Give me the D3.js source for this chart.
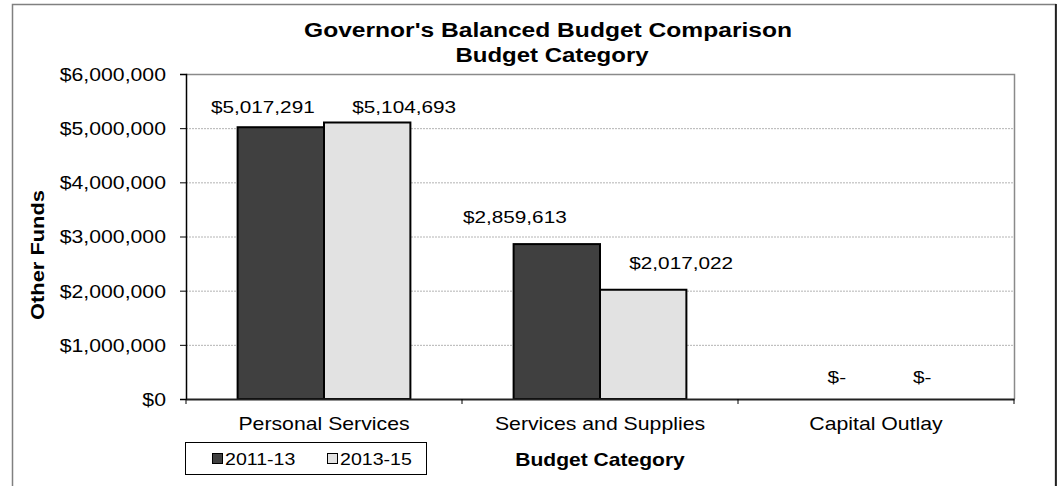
<!DOCTYPE html>
<html>
<head>
<meta charset="utf-8">
<script src="https://cdn.jsdelivr.net/npm/d3@7"></script>
<style>
  html, body { margin: 0; padding: 0; background: #fff; }
  svg { display: block; font-family: "Liberation Sans", Arial, sans-serif; }
</style>
</head>
<body>
<svg id="chart" width="1059" height="486"></svg>
<script>
// ---- data ----
const categories = ["Personal Services", "Services and Supplies", "Capital Outlay"];
const seriesNames = ["2011-13", "2013-15"];
const values2011 = [5017291, 2859613, 0];
const values2013 = [5104693, 2017022, 0];
const yTickValues = [0, 1000000, 2000000, 3000000, 4000000, 5000000, 6000000];
const titleLines = ["Governor's Balanced Budget Comparison", "Budget Category"];
const yAxisTitle = "Other Funds";
const xAxisTitle = "Budget Category";

// ---- layout ----
const W = 1059, H = 486;
const plot = { left: 186, top: 74, right: 1014, bottom: 399 };
const SX = 1.2; // horizontal glyph stretch seen in the reference
const colors = ["#404040", "#e2e2e2"];
// horizontal nudges of the data labels (per category, per series), as placed in the reference
const LABEL_NUDGE = [[-18, 37], [-42, 38], [4, 3]];

const svg = d3.select("#chart");

// outer frame
svg.append("rect").attr("x", 12.5).attr("y", 4.5).attr("width", 1043).attr("height", 500)
  .attr("fill", "#fff").attr("stroke", "#808080").attr("stroke-width", 1.5);
svg.append("line").attr("x1", 1056).attr("x2", 1056).attr("y1", 4).attr("y2", H)
  .attr("stroke", "#000").attr("stroke-width", 1.5);

const x = d3.scaleBand().domain(categories).range([plot.left, plot.right]).padding(0);
const bw = x.bandwidth();
const xs = d3.scaleBand().domain(seriesNames).range([bw * 0.187, bw * 0.813]).padding(0);
const y = d3.scaleLinear().domain([0, 6000000]).range([plot.bottom, plot.top]);

// stretched text helper
function stext(g, tx, ty, str, opts) {
  const o = Object.assign({ size: 17.7, weight: "normal", anchor: "middle", sx: SX, rotate: 0 }, opts || {});
  return g.append("text")
    .attr("transform", `translate(${tx},${ty}) rotate(${o.rotate}) scale(${o.sx},1)`)
    .attr("text-anchor", o.anchor)
    .attr("font-size", o.size)
    .attr("font-weight", o.weight)
    .attr("fill", "#000")
    .text(str);
}

// gridlines
svg.append("g").selectAll("line").data(yTickValues.filter(v => v > 0 && v < 6000000)).join("line")
  .attr("x1", plot.left).attr("x2", plot.right)
  .attr("y1", d => y(d) + 0.5).attr("y2", d => y(d) + 0.5)
  .attr("stroke", "#b4b4b4").attr("stroke-width", 1).attr("stroke-dasharray", "2,1");

// plot border top and right (gray)
svg.append("path")
  .attr("d", `M${plot.left},${plot.top + 0.5}H${plot.right + 0.5}V${plot.bottom}`)
  .attr("fill", "none").attr("stroke", "#8a8a8a").attr("stroke-width", 1.5);

// bars
const seriesData = [values2011, values2013];
const bars = svg.append("g");
categories.forEach((c, i) => {
  seriesNames.forEach((s, j) => {
    const v = seriesData[j][i];
    if (v > 0) {
      bars.append("rect")
        .attr("x", x(c) + xs(s))
        .attr("y", y(v))
        .attr("width", xs.bandwidth())
        .attr("height", y(0) - y(v))
        .attr("fill", colors[j])
        .attr("stroke", "#000").attr("stroke-width", 2);
    }
  });
});

// y axis
const yAxis = svg.append("g").attr("transform", `translate(${plot.left},0)`)
  .call(d3.axisLeft(y).tickValues(yTickValues).tickSize(6).tickPadding(14)
    .tickFormat(d => d === 0 ? "$0" : "$" + d3.format(",")(d)));
yAxis.select(".domain").attr("stroke", "#000").attr("stroke-width", 1.5);
yAxis.selectAll(".tick line").attr("stroke", "#000");
yAxis.selectAll(".tick text")
  .attr("font-family", "Liberation Sans, Arial, sans-serif")
  .attr("font-size", 17.7).attr("fill", "#000")
  .attr("x", -20 / SX).attr("dy", "0.36em")
  .attr("transform", `scale(${SX},1)`);

// x axis
const xAxis = svg.append("g").attr("transform", `translate(0,${plot.bottom})`)
  .call(d3.axisBottom(x).tickSize(0).tickFormat(""));
xAxis.select(".domain").attr("stroke", "#222").attr("stroke-width", 2);
xAxis.selectAll(".tick").remove();
// boundary ticks
svg.append("g").selectAll("line")
  .data(categories.map(c => x(c)).concat([x(categories[categories.length - 1]) + bw]))
  .join("line")
  .attr("x1", d => d).attr("x2", d => d)
  .attr("y1", plot.bottom).attr("y2", plot.bottom + 5)
  .attr("stroke", "#000").attr("stroke-width", 1);

// category labels
const catG = svg.append("g");
categories.forEach(c => stext(catG, x(c) + bw / 2, 430, c, { size: 17.7 }));

// data labels
const labG = svg.append("g");
const fmt = v => v === 0 ? "$-" : "$" + d3.format(",")(v);
categories.forEach((c, i) => {
  seriesNames.forEach((s, j) => {
    const v = seriesData[j][i];
    const cx = x(c) + xs(s) + xs.bandwidth() / 2 + LABEL_NUDGE[i][j];
    const ly = v === 0 ? y(0) - 16 : Math.max(y(v) - 21, plot.top + 39);
    stext(labG, cx, ly, fmt(v), { size: 17.3 });
  });
});

// titles
const tG = svg.append("g");
stext(tG, 548, 37, titleLines[0], { size: 20.5, weight: "bold", sx: 1.2 });
stext(tG, 552, 62, titleLines[1], { size: 20.5, weight: "bold", sx: 1.17 });

// y axis title
stext(tG, 44, 255, yAxisTitle, { size: 17.5, weight: "bold", rotate: -90, sx: 1.25 });

// x axis title
stext(tG, 600, 466, xAxisTitle, { size: 18, weight: "bold", sx: 1.17 });

// legend
const lg = svg.append("g");
lg.append("rect").attr("x", 185.5).attr("y", 442.5).attr("width", 241).attr("height", 32)
  .attr("fill", "#fff").attr("stroke", "#000").attr("stroke-width", 1);
const legendX = [212, 327];
seriesNames.forEach((s, j) => {
  lg.append("rect").attr("x", legendX[j] + 0.5).attr("y", 453.5).attr("width", 10).attr("height", 10)
    .attr("fill", colors[j]).attr("stroke", "#000").attr("stroke-width", 1);
  stext(lg, legendX[j] + 13, 465, s, { size: 16.3, anchor: "start" });
});
</script>
</body>
</html>
